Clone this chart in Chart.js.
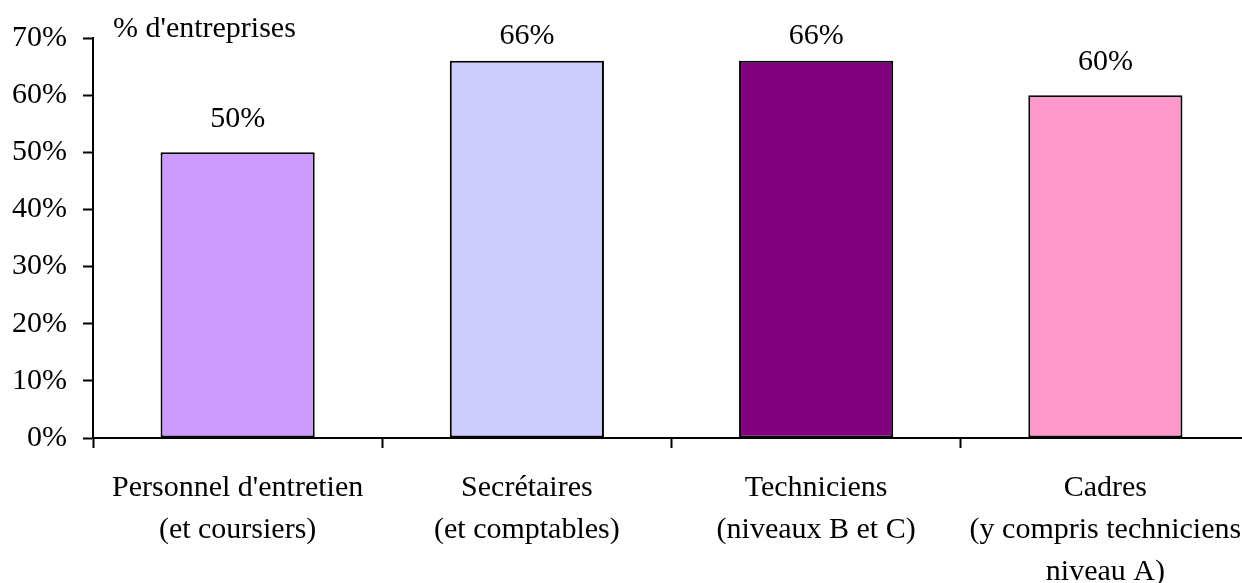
<!DOCTYPE html>
<html>
<head>
<meta charset="utf-8">
<script src="https://cdn.jsdelivr.net/npm/chart.js@4/dist/chart.umd.min.js"></script>
<style>
  html, body { margin: 0; padding: 0; background: #fff; overflow: hidden; }
  #wrap { width: 1242px; height: 583px; overflow: hidden; }
</style>
</head>
<body>
<div id="wrap"><canvas id="myChart" width="1252" height="583"></canvas></div>
<script>
const categories = [
    ["Personnel d'entretien", "(et coursiers)"],
    ["Secrétaires", "(et comptables)"],
    ["Techniciens", "(niveaux B et C)"],
    ["Cadres", "(y compris techniciens", "niveau A)"]
];
const values = [50, 66, 66, 60];
const barColors = ['#CC99FF', '#CCCCFF', '#800080', '#FF99CC'];
const yTicks = [0, 10, 20, 30, 40, 50, 60, 70];

const serif = "'Liberation Serif', 'Times New Roman', serif";

// value above each bar + the unit caption next to the y axis
const barLabels = {
    id: 'barLabels',
    afterDatasetsDraw(chart) {
        const ctx = chart.ctx;
        const area = chart.chartArea;
        ctx.save();
        ctx.fillStyle = '#000';
        ctx.font = '30px ' + serif;
        ctx.textAlign = 'center';
        ctx.textBaseline = 'middle';
        chart.getDatasetMeta(0).data.forEach((bar, i) => {
            let y = Math.max(bar.y - 33, area.top - 2);
            ctx.fillText(values[i] + '%', bar.x, y);
        });
        ctx.textAlign = 'left';
        ctx.fillText("% d'entreprises", area.left + 20, area.top - 9);
        ctx.restore();
    }
};

const data = {
    labels: categories,
    datasets: [{
        data: values,
        backgroundColor: barColors,
        borderColor: '#000',
        borderWidth: 2,
        borderSkipped: false,
        barPercentage: 0.533,
        categoryPercentage: 1
    }]
};

const config = {
    type: 'bar',
    data: data,
    plugins: [barLabels],
    options: {
        responsive: false,
        animation: false,
        layout: { padding: { top: 38, right: 2, bottom: 0, left: 0 } },
        plugins: {
            legend: { display: false },
            tooltip: { enabled: false }
        },
        scales: {
            x: {
                // fixed height, and don't let the long last label shrink the plot
                afterFit: (scale) => {
                    scale.height = 145;
                    scale.paddingLeft = 0;
                    scale.paddingRight = 0;
                },
                border: { display: true, color: '#000', width: 2 },
                grid: {
                    offset: true,
                    drawOnChartArea: false,
                    drawTicks: true,
                    tickLength: 10,
                    tickColor: '#000',
                    tickWidth: 2
                },
                ticks: {
                    color: '#000',
                    padding: 19,
                    maxRotation: 0,
                    autoSkip: false,
                    font: { family: serif, size: 30, lineHeight: 1.4 }
                }
            },
            y: {
                min: 0,
                max: 70,
                afterFit: (scale) => { scale.width = 93; },
                afterBuildTicks: (scale) => { scale.ticks = yTicks.map(v => ({ value: v })); },
                border: { display: true, color: '#000', width: 2 },
                grid: {
                    drawOnChartArea: false,
                    drawTicks: true,
                    tickLength: 10,
                    tickColor: '#000',
                    tickWidth: 2
                },
                ticks: {
                    color: '#000',
                    padding: 16,
                    font: { family: serif, size: 30 },
                    callback: (v) => v + '%'
                }
            }
        }
    }
};

const myChart = new Chart(document.getElementById('myChart'), config);
</script>
</body>
</html>
